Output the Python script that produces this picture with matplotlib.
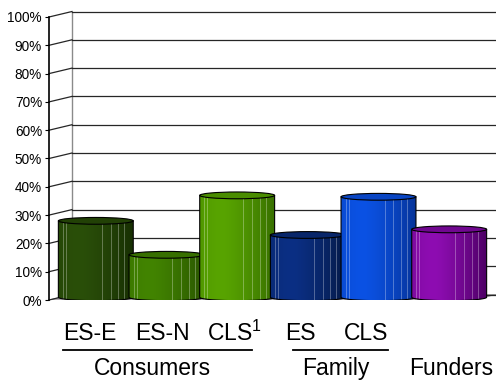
import numpy as np
import matplotlib
matplotlib.use("Agg")
import matplotlib.pyplot as plt
from matplotlib.patches import Polygon, Ellipse
from matplotlib.colors import to_rgb

plt.rcParams['font.family'] = ['Liberation Sans', 'DejaVu Sans']
plt.rcParams['mathtext.fontset'] = 'custom'
plt.rcParams['mathtext.rm'] = 'Liberation Sans'

# data (percent)
categories = ['ES-E', 'ES-N', 'CLS$^1$', 'ES', 'CLS', 'Funders']
values = [27, 15, 36, 22, 35.5, 24]
light_colors = ['#2a4f09', '#428400', '#58a400', '#0b2f84', '#0b52e4', '#8e0db2']
dark_colors = ['#183003', '#2a5600', '#387000', '#051b4a', '#06349a', '#4c0064']

# label layout (x in category units, y in percent)
sub_labels = ['ES-E', 'ES-N', 'CLS$^1$', 'ES', 'CLS']
sub_x = [0.58, 1.60, 2.62, 3.55, 4.49]
groups = ['Consumers', 'Family', 'Funders']
group_x = [1.47, 4.06, 5.69]
group_spans = [(0.2, 2.87), (3.45, 4.79), None]

depth_x = 0.325   # 3d depth offset in category units
depth_y = 1.94    # 3d depth offset in percent
half_w = 0.53
ell_h = 1.2

fig = plt.figure(figsize=(4.96, 3.82), dpi=100)
ax = fig.add_axes([49 / 496, 82 / 382, 447 / 496, 283 / 382])
xmax = len(values) + depth_x

# floor
floor = Polygon([(0, 0), (depth_x, depth_y), (xmax, depth_y), (len(values), 0)],
                closed=True, facecolor='#c4bec4', edgecolor='#909090', lw=0.6, zorder=1)
ax.add_patch(floor)

# back wall and grid
ax.plot([depth_x, depth_x], [depth_y, 100 + depth_y], color='#8a8a8a', lw=1, zorder=1, clip_on=False)
for v in range(0, 101, 10):
    ax.plot([depth_x, xmax], [v + depth_y, v + depth_y], color='#262626', lw=0.9, zorder=1, clip_on=False)
    ax.plot([0, depth_x], [v, v + depth_y], color='#262626', lw=0.9, zorder=1, clip_on=False)

# cylinders
t = np.linspace(0, 1, 80)
shade = np.where(t < 0.3, 0.25 * (1 - t / 0.3) ** 2, ((t - 0.3) / 0.7) ** 1.3)
highlights = [0.06, 0.1, 0.58, 0.7, 0.8, 0.88]
for i, v in enumerate(values):
    c = i + 0.5 + depth_x / 2
    y0 = depth_y / 2
    yt = v + depth_y / 2
    lc = np.array(to_rgb(light_colors[i]))
    dc = np.array(to_rgb(dark_colors[i]))
    img = (lc[None, :] * (1 - shade[:, None]) + dc[None, :] * shade[:, None])[None, :, :]
    z = 3 + i * 0.1

    th = np.linspace(np.pi, 2 * np.pi, 40)
    pts = list(zip(c + half_w * np.cos(th), y0 + ell_h * np.sin(th)))
    pts += [(c + half_w, yt), (c - half_w, yt)]
    body = Polygon(pts, closed=True, facecolor='none', edgecolor='black', lw=0.8, zorder=z + 0.03)
    ax.add_patch(body)
    im = ax.imshow(img, extent=[c - half_w, c + half_w, y0 - ell_h, yt], aspect='auto',
                   interpolation='bilinear', zorder=z)
    im.set_clip_path(body)

    for h in highlights:
        hx = c - half_w + 2 * half_w * h
        yb = y0 - ell_h * np.sqrt(max(0, 1 - ((hx - c) / half_w) ** 2))
        ax.plot([hx, hx], [yb, yt], color='white', alpha=0.3, lw=0.7, zorder=z + 0.02)

    topc = lc * 0.55 + dc * 0.45
    top = Ellipse((c, yt), 2 * half_w, 2 * ell_h, facecolor=topc, edgecolor='black', lw=0.8, zorder=z + 0.05)
    ax.add_patch(top)

ax.set_xlim(0, xmax)
ax.set_ylim(0, 100)
for s in ['top', 'right', 'bottom']:
    ax.spines[s].set_visible(False)
ax.spines['left'].set_color('black')
ax.spines['left'].set_linewidth(1.2)
ax.set_xticks([])
ax.set_yticks(range(0, 101, 10))
ax.set_yticklabels([f'{v}%' for v in range(0, 101, 10)], fontsize=9.8)
ax.tick_params(axis='y', length=3, pad=2, colors='black')

# category labels
for lab, x in zip(sub_labels, sub_x):
    ax.text(x, -11.7, lab, ha='center', va='center', fontsize=16.5, clip_on=False)
for lab, x, span in zip(groups, group_x, group_spans):
    ax.text(x, -24.2, lab, ha='center', va='center', fontsize=16.5, clip_on=False)
    if span:
        ax.plot(span, [-17.7, -17.7], color='black', lw=1.3, clip_on=False)

fig.savefig('out.png', dpi=100)
